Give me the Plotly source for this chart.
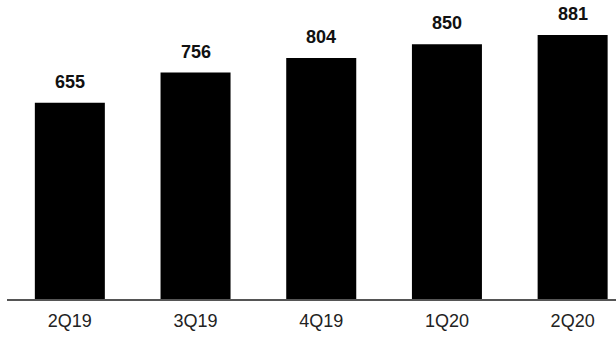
import plotly.graph_objects as go

categories = ["2Q19", "3Q19", "4Q19", "1Q20", "2Q20"]
values = [655, 756, 804, 850, 881]
labels = [str(v) for v in values]

fig = go.Figure()
fig.add_trace(go.Bar(
    x=categories, y=values, width=0.557,
    marker=dict(color="#000000", line=dict(width=0)),
))
for c, v, t in zip(categories, values, labels):
    fig.add_annotation(
        x=c, y=v, text=t, showarrow=False, yanchor="bottom", yshift=9,
        font=dict(family="Liberation Sans, Arial", size=18, color="#111111", weight="bold"),
    )
fig.update_layout(
    width=616, height=339,
    margin=dict(l=7, r=0, t=0, b=40),
    paper_bgcolor="white", plot_bgcolor="white",
    showlegend=False,
    xaxis=dict(range=[-0.5, 4.345], showline=True, linecolor="#555555", linewidth=2,
               showgrid=False, ticks="outside", ticklen=4, tickcolor="rgba(0,0,0,0)",
               tickfont=dict(family="Liberation Sans, Arial", size=18, color="#222222")),
    yaxis=dict(range=[0, 998], visible=False, showgrid=False, zeroline=False),
)
fig.write_html("out.html")
